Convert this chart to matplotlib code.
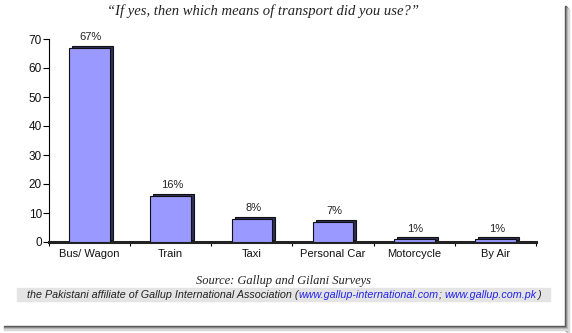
import matplotlib.pyplot as plt
import matplotlib.transforms as mtransforms
from matplotlib.patches import Rectangle

# dados #
categorias = ["Bus/ Wagon", "Train", "Taxi", "Personal Car", "Motorcycle", "By Air"]
valores = [67, 16, 8, 7, 1, 1]
rotulos = ["67%", "16%", "8%", "7%", "1%", "1%"]
yticks = [0, 10, 20, 30, 40, 50, 60, 70]

W, H = 572, 333
fig = plt.figure(figsize=(W / 100, H / 100), dpi=100)
fig.patch.set_facecolor("white")

# sombra do cartao (borda direita e inferior)
for i, c in enumerate(["#505050", "#808080", "#b0b0b0", "#d8d8d8"]):
    fig.patches.append(Rectangle(((565 + i) / W, 0 / H + (3 - i) / H), 1 / W, (327 - 3) / H,
                                 transform=fig.transFigure, color=c, zorder=0))
    fig.patches.append(Rectangle((4 / W, 1 - (327 + i) / H), (562 + i) / W, 1 / H,
                                 transform=fig.transFigure, color=c, zorder=0))

ax = fig.add_axes([49 / W, 1 - 242 / H, (536 - 49) / W, (242 - 39) / H])
x = list(range(len(categorias)))

# barras com efeito 3D
sombra = mtransforms.offset_copy(ax.transData, fig=fig, x=3, y=2, units="dots")
ax.bar(x, valores, width=0.5, color="#2e2e5c", edgecolor="#111111", linewidth=0.8,
       transform=sombra, zorder=2)
ax.bar(x, valores, width=0.5, color="#9999ff", edgecolor="#111111", linewidth=0.8, zorder=3)

for xi, v, r in zip(x, valores, rotulos):
    ax.annotate(r, (xi, v), xytext=(1, 4), textcoords="offset points", ha="center",
                va="bottom", fontsize=8, family="Liberation Sans", color="#222222")

ax.set_xlim(-0.5, 5.5)
ax.set_ylim(0, 70)
ax.set_yticks(yticks)
ax.set_xticks(x)
ax.set_xticklabels(categorias)
ax.set_xticks([i + 0.5 for i in range(-1, len(categorias))], minor=True)
ax.tick_params(axis="x", which="major", length=0, pad=5, labelsize=8)
ax.tick_params(axis="x", which="minor", length=3, width=0.8, direction="out")
ax.tick_params(axis="y", length=4, width=0.8, direction="out", pad=1, labelsize=8.5)
for t in ax.get_xticklabels() + ax.get_yticklabels():
    t.set_family("Liberation Sans")
    t.set_color("#111111")

ax.spines["top"].set_visible(False)
ax.spines["right"].set_visible(False)
ax.spines["left"].set_linewidth(0.8)
ax.spines["bottom"].set_linewidth(2.2)
ax.spines["bottom"].set_color("#222222")
ax.set_facecolor("none")

# titulo e fonte
fig.text(263 / W, 1 - 11 / H, "\u201cIf yes, then which means of transport did you use?\u201d",
         ha="center", va="center", fontsize=10.5, style="italic", family="Liberation Serif",
         color="#222222")
fig.text(284 / W, 1 - 281 / H, "Source: Gallup and Gilani Surveys", ha="center", va="center",
         fontsize=9, style="italic", family="Liberation Serif", color="#222222")

fig.patches.append(Rectangle((17 / W, 1 - 301 / H), (550 - 17) / W, 13 / H,
                             transform=fig.transFigure, color="#e4e4e4", zorder=0))
partes = [("the Pakistani affiliate of Gallup International Association (", "#222222"),
          ("www.gallup-international.com", "#2222ee"),
          ("; ", "#222222"),
          ("www.gallup.com.pk", "#2222ee"),
          (")", "#222222")]
renderer = fig.canvas.get_renderer()
xpos = 27
for txt, cor in partes:
    t = fig.text(xpos / W, 1 - 297.5 / H, txt, ha="left", va="baseline", fontsize=7.75,
                 style="italic", family="Liberation Sans", color=cor)
    xpos = t.get_window_extent(renderer).x1

plt.savefig("out.png", dpi=100)
